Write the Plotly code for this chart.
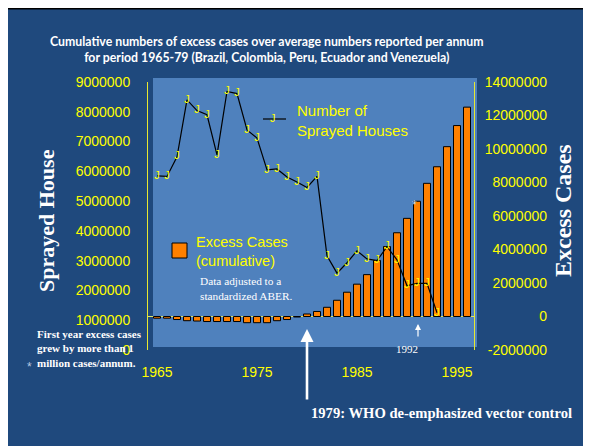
import plotly.graph_objects as go

W, H = 591, 446
OFF = 8  # the page places the figure 8 px from the window's top-left corner


def px(x):
    return (x - OFF) / W


def py(y):
    return 1 - (y - OFF) / H


# ---------------- data ----------------
years_bars = list(range(1965, 1997))
excess_cases = [
    -100000, -100000, -180000, -250000, -270000, -300000, -300000, -300000,
    -300000, -370000, -370000, -370000, -250000, -180000, -30000,
    150000, 300000, 550000, 970000, 1450000, 1930000, 2500000, 3350000,
    4180000, 5000000, 5860000, 6880000, 7950000, 8940000, 10140000,
    11400000, 12500000,
]

years_line = list(range(1965, 1994))
sprayed_houses = [
    5850000, 5830000, 6490000, 8400000, 8040000, 7900000, 6550000, 8680000,
    8610000, 7390000, 7120000, 6050000, 6080000, 5810000, 5640000, 5460000,
    5830000, 3160000, 2580000, 2930000, 3330000, 3060000, 3000000, 3470000,
    3030000, 2160000, 2240000, 2240000, 1250000,
]

left_ticks = [0, 1000000, 2000000, 3000000, 4000000, 5000000, 6000000,
              7000000, 8000000, 9000000]
left_tick_labels = ["0", "1000000", "2000000", "3000000", "4000000",
                    "5000000", "6000000", "7000000", "8000000", "9000000"]
right_ticks = [-2000000, 0, 2000000, 4000000, 6000000, 8000000, 10000000,
               12000000, 14000000]
right_tick_labels = ["-2000000", "0", "2000000", "4000000", "6000000",
                     "8000000", "10000000", "12000000", "14000000"]
x_ticks = [1965, 1975, 1985, 1995]
x_tick_labels = ["1965", "1975", "1985", "1995"]

# ---------------- styles ----------------
DARK = "#1f497d"
LIGHT = "#4f81bd"
YEL = "#ffff00"
SANS = "Liberation Sans, Arial, sans-serif"
SERIF = "Liberation Serif, Times New Roman, serif"

fig = go.Figure()

fig.add_trace(go.Bar(
    x=years_bars, y=excess_cases, yaxis="y",
    marker=dict(color="#ff8000", line=dict(color="black", width=1)),
    name="Excess Cases (cumulative)", showlegend=False,
))

fig.add_trace(go.Scatter(
    x=years_line, y=sprayed_houses, yaxis="y2",
    mode="lines+text", text=["J"] * len(years_line),
    textposition="middle center",
    textfont=dict(color=YEL, size=11, family=SANS),
    line=dict(color="black", width=1.2),
    name="Number of Sprayed Houses", showlegend=False,
))

shapes = [
    # slide background
    dict(type="rect", xref="paper", yref="paper", x0=px(6.5), x1=px(610),
         y0=py(470), y1=py(8.5), fillcolor=DARK,
         line=dict(color="black", width=2), layer="below"),
    # plot area
    dict(type="rect", xref="paper", yref="paper", x0=px(153), x1=px(477),
         y0=py(347), y1=py(78), fillcolor=LIGHT, line=dict(width=0),
         layer="below"),
    # legend line for sprayed houses
    dict(type="line", xref="paper", yref="paper", x0=px(263), x1=px(286),
         y0=py(119), y1=py(119), line=dict(color="black", width=1.2)),
    # legend box for excess cases
    dict(type="rect", xref="paper", yref="paper", x0=px(172), x1=px(187),
         y0=py(258), y1=py(243), fillcolor="#ff8000",
         line=dict(color="black", width=1)),
]


def note(**kw):
    d = dict(xref="paper", yref="paper", showarrow=False)
    d.update(kw)
    return d


annotations = [
    note(text="<b>Cumulative numbers of excess cases over average numbers reported per annum"
              "<br>for period 1965-79 (Brazil, Colombia, Peru, Ecuador and Venezuela)</b>",
         x=px(267), y=py(49), xanchor="center", yanchor="middle",
         font=dict(family="Lato, sans-serif", size=12.3, color="white")),
    note(text="<b>Sprayed House</b>", x=px(47), y=py(221), textangle=-90,
         font=dict(family=SERIF, size=22, color="white"),
         xanchor="center", yanchor="middle"),
    note(text="<b>Excess Cases</b>", x=px(563), y=py(211), textangle=-90,
         font=dict(family=SERIF, size=24, color="white"),
         xanchor="center", yanchor="middle"),
    note(text="J", x=px(273), y=py(118), yanchor="middle",
         font=dict(family=SANS, size=11, color=YEL)),
    note(text="Number of<br>Sprayed Houses", x=px(295), y=py(120),
         xanchor="left", yanchor="middle", align="left",
         font=dict(family=SANS, size=15, color=YEL)),
    note(text="Excess Cases<br>(cumulative)", x=px(194), y=py(251),
         xanchor="left", yanchor="middle", align="left",
         font=dict(family=SANS, size=14.5, color=YEL)),
    note(text="Data adjusted to a<br>standardized ABER.", x=px(198), y=py(288),
         xanchor="left", yanchor="middle", align="left",
         font=dict(family=SERIF, size=11.3, color="white")),
    note(text="<b>First year excess cases<br>grew by more than 1<br>million cases/annum.</b>",
         x=px(35), y=py(348), xanchor="left", yanchor="middle", align="left",
         font=dict(family=SERIF, size=11, color="white")),
    note(text="*", x=px(25), y=py(376),
         font=dict(family=SANS, size=12, color="#b8c8e0")),
    note(text="*", x=px(419), y=py(205),
         font=dict(family=SANS, size=12, color="#c8d8f0")),
    note(text="1992", x=px(420), y=py(357),
         font=dict(family=SERIF, size=11, color="white")),
    note(text="", x=px(418), y=py(324), ax=0, ay=14, axref="pixel", ayref="pixel",
         showarrow=True, arrowhead=2, arrowsize=1, arrowwidth=1.2,
         arrowcolor="white"),
    note(text="", x=px(307), y=py(329), ax=0, ay=72, axref="pixel", ayref="pixel",
         showarrow=True, arrowhead=2, arrowsize=1, arrowwidth=2.6,
         arrowcolor="white"),
    note(text="<b>1979: WHO de-emphasized vector control</b>", x=px(309), y=py(413),
         xanchor="left", yanchor="middle",
         font=dict(family=SERIF, size=14.6, color="white")),
]

fig.update_layout(
    template="none",
    width=W, height=H, autosize=False,
    margin=dict(l=0, r=0, t=0, b=0, pad=0, autoexpand=False),
    paper_bgcolor="white",
    plot_bgcolor="rgba(0,0,0,0)",
    bargap=0.3,
    shapes=shapes,
    annotations=annotations,
    showlegend=False,
    xaxis=dict(
        domain=[px(148), px(474)], range=[1964.1, 1996.7],
        tickvals=x_ticks, ticktext=x_tick_labels,
        tickfont=dict(family=SANS, size=14, color=YEL),
        showgrid=False, zeroline=False, showline=False, ticks="",
        ticklabelstandoff=12, anchor="y", automargin=False,
    ),
    yaxis=dict(
        domain=[py(350), py(82)], range=[-2000000, 14000000],
        anchor="free", position=px(549), side="left",
        tickvals=right_ticks, ticktext=right_tick_labels,
        tickfont=dict(family=SANS, size=14, color=YEL),
        showgrid=False, showline=False, ticks="",
        zeroline=True, zerolinecolor="#dce36a", zerolinewidth=1,
        ticklabelstandoff=2, automargin=False,
    ),
    yaxis2=dict(
        overlaying="y", anchor="x", side="left", range=[0, 9000000],
        tickvals=left_ticks, ticktext=left_tick_labels,
        tickfont=dict(family=SANS, size=14, color=YEL),
        showgrid=False, zeroline=False,
        showline=True, linecolor="#e8e830", linewidth=1, mirror=True,
        ticks="", ticklabelstandoff=14, automargin=False,
    ),
)

fig.write_html("out.html")
